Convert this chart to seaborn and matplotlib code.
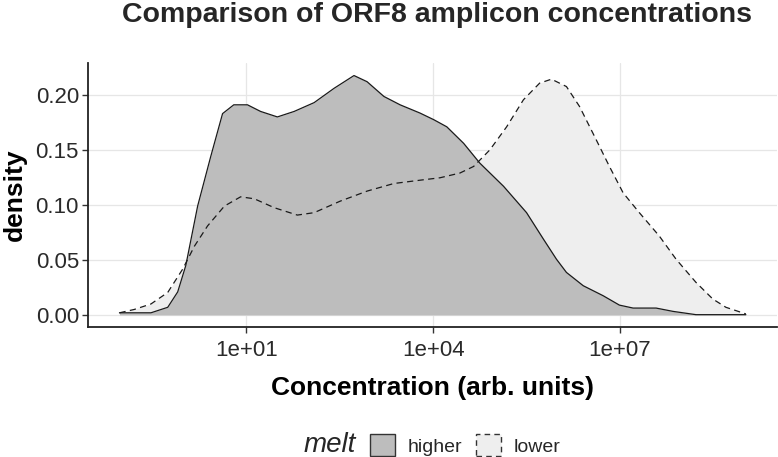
import numpy as np
import pandas as pd
import matplotlib
matplotlib.use("Agg")
import matplotlib.pyplot as plt
from matplotlib.patches import Patch
from matplotlib.ticker import NullLocator
import seaborn as sns

# --- values (x = log10 of concentration) ---
higher_log = [-1.035, -0.53, -0.26, -0.10, 0.03, 0.22, 0.43, 0.62, 0.80, 1.02,
              1.23, 1.50, 1.77, 2.09, 2.41, 2.73, 2.94, 3.21, 3.47, 3.79,
              4.01, 4.22, 4.49, 4.75, 5.13, 5.50, 5.77, 5.98, 6.14, 6.41,
              6.73, 6.99, 7.21, 7.58, 7.85, 8.22, 9.02]
higher_density = [0.002, 0.002, 0.007, 0.021, 0.045, 0.099, 0.144, 0.183, 0.191, 0.191,
                  0.185, 0.180, 0.185, 0.193, 0.206, 0.2176, 0.212, 0.1986, 0.191, 0.1835,
                  0.1775, 0.171, 0.156, 0.138, 0.117, 0.093, 0.069, 0.0507, 0.0387, 0.0266,
                  0.0175, 0.009, 0.0063, 0.0063, 0.0033, 0.0003, 0.0003]

lower_log = [-1.035, -0.80, -0.53, -0.26, -0.02, 0.17, 0.38, 0.65, 0.91, 1.13,
             1.45, 1.82, 2.09, 2.51, 2.94, 3.37, 3.79, 4.11, 4.43, 4.65,
             4.91, 5.18, 5.45, 5.71, 5.90, 6.14, 6.35, 6.62, 6.83, 7.05,
             7.31, 7.63, 7.90, 8.22, 8.49, 8.70, 9.02]
lower_density = [0.002, 0.005, 0.010, 0.0205, 0.0417, 0.0627, 0.081, 0.099, 0.1074, 0.1056,
                 0.0975, 0.0908, 0.093, 0.1035, 0.1126, 0.1195, 0.1225, 0.1247, 0.129, 0.135,
                 0.150, 0.171, 0.1956, 0.2107, 0.2143, 0.2076, 0.1895, 0.159, 0.135, 0.111,
                 0.093, 0.0718, 0.0507, 0.0296, 0.0145, 0.007, 0.001]

groups = ["higher", "lower"]
x_tick_exp = [1, 4, 7]
x_tick_labels = ["1e+01", "1e+04", "1e+07"]
y_ticks = [0.00, 0.05, 0.10, 0.15, 0.20]

FILL = {"higher": "#BDBDBD", "lower": "#EEEEEE"}
INK = "#1a1a1a"

df = pd.concat([
    pd.DataFrame({"conc": np.power(10.0, higher_log), "density": higher_density, "melt": "higher"}),
    pd.DataFrame({"conc": np.power(10.0, lower_log), "density": lower_density, "melt": "lower"}),
], ignore_index=True)

sns.set_theme(style="whitegrid")
plt.rcParams["font.family"] = ["Liberation Sans", "DejaVu Sans"]

fig = plt.figure(figsize=(7.78, 4.57), dpi=100)
ax = fig.add_axes([88 / 778, 1 - 327 / 457, 689 / 778, 264 / 457])

# filled areas: light one underneath, dark one on top
for g in ["lower", "higher"]:
    sub = df[df["melt"] == g]
    ax.fill_between(sub["conc"], sub["density"], color=FILL[g], linewidth=0, zorder=2)

sns.lineplot(data=df, x="conc", y="density", hue="melt", style="melt",
             palette={"higher": INK, "lower": INK},
             dashes={"higher": "", "lower": (5, 3.5)},
             estimator=None, errorbar=None, linewidth=0.9,
             legend=False, ax=ax, zorder=3)

ax.set_xscale("log")
ax.set_xlim(10 ** -1.54, 10 ** 9.52)
ax.set_ylim(-0.0109, 0.229)
ax.set_xticks([10.0 ** e for e in x_tick_exp], labels=x_tick_labels)
ax.xaxis.set_minor_locator(NullLocator())
ax.set_yticks(y_ticks, labels=[f"{v:.2f}" for v in y_ticks])

ax.grid(True, color="#E6E6E6", linewidth=0.9)
ax.set_axisbelow(True)
for s in ["top", "right"]:
    ax.spines[s].set_visible(False)
for s in ["left", "bottom"]:
    ax.spines[s].set_color("#222222")
    ax.spines[s].set_linewidth(1.3)
ax.tick_params(axis="both", length=4, width=1, color="#333333",
               labelsize=16, labelcolor="#2a2a2a", bottom=True, left=True)
ax.tick_params(axis="x", pad=5)
ax.tick_params(axis="y", pad=2.5)

ax.set_xlabel("Concentration (arb. units)", fontsize=19, fontweight="bold", color="black")
ax.set_ylabel("density", fontsize=19, fontweight="bold", color="black")
ax.xaxis.set_label_coords(0.5, -(388 - 327) / 264)
ax.xaxis.label.set_va("center")
ax.yaxis.set_label_coords(-(88 - 15) / 689, 0.5)
ax.yaxis.label.set_va("center")

fig.text(437 / 778, 1 - 15 / 457, "Comparison of ORF8 amplicon concentrations",
         ha="center", va="center", fontsize=20.5, fontweight="bold")

# legend, ggplot-style with title to the left
fig.text(330 / 778, 1 - 445 / 457, "melt", ha="center", va="center",
         fontsize=20, fontstyle="italic")
handles = [
    Patch(facecolor=FILL["higher"], edgecolor="#333333", linewidth=1),
    Patch(facecolor=FILL["lower"], edgecolor="#333333", linewidth=1, linestyle=(0, (4, 3))),
]
fig.legend(handles, groups, loc="center left", bbox_to_anchor=(370 / 778, 1 - 445 / 457),
           ncol=2, frameon=False, fontsize=14, handlelength=1.3, handleheight=1.3,
           handletextpad=0.62, columnspacing=0.72, borderaxespad=0, borderpad=0)

fig.savefig("out.png", dpi=100)
